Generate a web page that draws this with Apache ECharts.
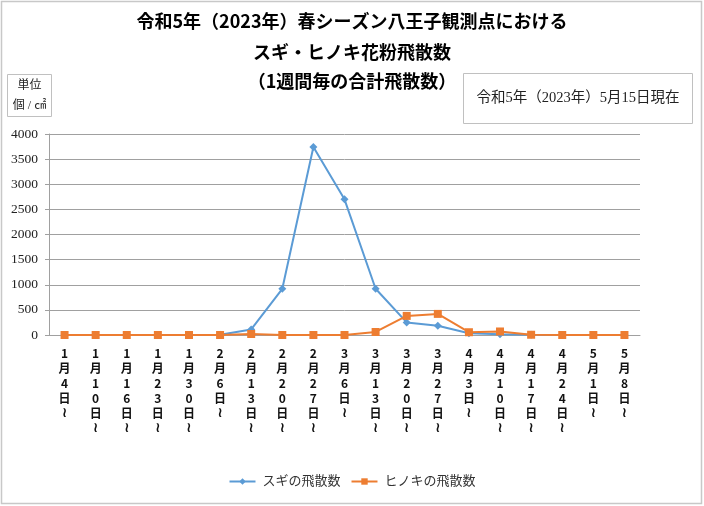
<!DOCTYPE html>
<html><head><meta charset="utf-8">
<script src="https://cdn.jsdelivr.net/npm/echarts@6/dist/echarts.min.js"></script>
<style>html,body{margin:0;padding:0;background:#fff}#c{width:704px;height:506px}</style>
</head><body><div id="c"></div>
<script>
const categories = ["1月4日～","1月10日～","1月16日～","1月23日～","1月30日～","2月6日～","2月13日～","2月20日～","2月27日～","3月6日～","3月13日～","3月20日～","3月27日～","4月3日～","4月10日～","4月17日～","4月24日～","5月1日～","5月8日～"];
const sugi =   [0,0,0,0,0,5,110,920,3740,2700,920,250,185,35,15,3,0,0,0];
const hinoki = [0,0,0,0,0,0,20,0,0,0,60,380,420,55,70,5,0,0,0];
const yTicks = {min:0, max:4000, interval:500};
const titleLines = ["令和5年（2023年）春シーズン八王子観測点における","スギ・ヒノキ花粉飛散数","（1週間毎の合計飛散数）"];
const seriesNames = ["スギの飛散数","ヒノキの飛散数"];

const jp = "'Noto Sans CJK JP', sans-serif";
const serifJp = "'Liberation Serif', 'Noto Sans CJK JP', serif";
const chart = echarts.init(document.getElementById('c'), null, {renderer:'canvas'});
chart.setOption({
  animation:false,
  backgroundColor:'#fff',
  title: [
    {text:titleLines[0], left:'center', top:7, textStyle:{fontFamily:jp, fontSize:18, fontWeight:'bold', color:'#000'}},
    {text:titleLines[1], left:'center', top:38, textStyle:{fontFamily:jp, fontSize:18, fontWeight:'bold', color:'#000'}},
    {text:titleLines[2], left:'center', top:67, textStyle:{fontFamily:jp, fontSize:18, fontWeight:'bold', color:'#000'}}
  ],
  graphic: [
    {type:'rect', shape:{x:1.5,y:1.5,width:700,height:502}, style:{fill:'none', stroke:'#c8c8c8', lineWidth:1.5}, silent:true, z:-1},
    {type:'rect', shape:{x:7.5,y:74.5,width:44,height:42}, style:{fill:'#fff', stroke:'#c0c0c0', lineWidth:1}},
    {type:'text', x:29.5, y:86, style:{text:'単位', fontFamily:serifJp, fontSize:12, fill:'#222', align:'center', verticalAlign:'middle'}},
    {type:'text', x:29.5, y:106, style:{text:'個 / ㎠', fontFamily:serifJp, fontSize:12, fill:'#222', align:'center', verticalAlign:'middle'}},
    {type:'rect', shape:{x:463.5,y:73.5,width:229,height:50}, style:{fill:'#fff', stroke:'#c0c0c0', lineWidth:1}},
    {type:'text', x:578, y:98.5, style:{text:'令和5年（2023年）5月15日現在', fontFamily:serifJp, fontSize:14.5, fill:'#222', align:'center', verticalAlign:'middle'}}
  ],
  grid: {left:49, right:64, top:134, bottom:171, containLabel:false},
  legend: {
    bottom:13, left:'center', itemWidth:26, itemHeight:8, itemGap:10,
    textStyle:{fontFamily:serifJp, fontSize:13, color:'#333', padding:[0,0,0,2]},
    data: seriesNames
  },
  xAxis: {
    type:'category', data:categories, boundaryGap:true,
    axisLine:{lineStyle:{color:'#a0a0a0', width:1}},
    axisTick:{show:false},
    axisLabel:{interval:0, margin:11, fontFamily:jp, fontSize:12, fontWeight:'bold', color:'#111', lineHeight:15,
      formatter: v => v.slice(0,-1).split('').join('\n') + '\n{w|≀}',
      rich:{w:{fontFamily:"'DejaVu Sans', sans-serif", fontSize:14, fontWeight:'bold', color:'#111', lineHeight:15}}}
  },
  yAxis: {
    type:'value', min:yTicks.min, max:yTicks.max, interval:yTicks.interval,
    axisLine:{show:true, lineStyle:{color:'#a0a0a0'}},
    axisTick:{show:true, length:4, lineStyle:{color:'#a0a0a0'}},
    splitLine:{lineStyle:{color:'#a0a0a0', width:1}},
    axisLabel:{fontFamily:"'Liberation Serif', serif", fontSize:13.5, color:'#222', margin:11, formatter: v => String(v)}
  },
  series: [
    {name:seriesNames[0], type:'line', data:sugi, symbol:'diamond', symbolSize:8, showAllSymbol:true,
      lineStyle:{color:'#5B9BD5', width:2}, itemStyle:{color:'#5B9BD5'}, z:2},
    {name:seriesNames[1], type:'line', data:hinoki, symbol:'rect', symbolSize:8, showAllSymbol:true,
      lineStyle:{color:'#ED7D31', width:2}, itemStyle:{color:'#ED7D31'}, z:3}
  ]
});
</script></body></html>
